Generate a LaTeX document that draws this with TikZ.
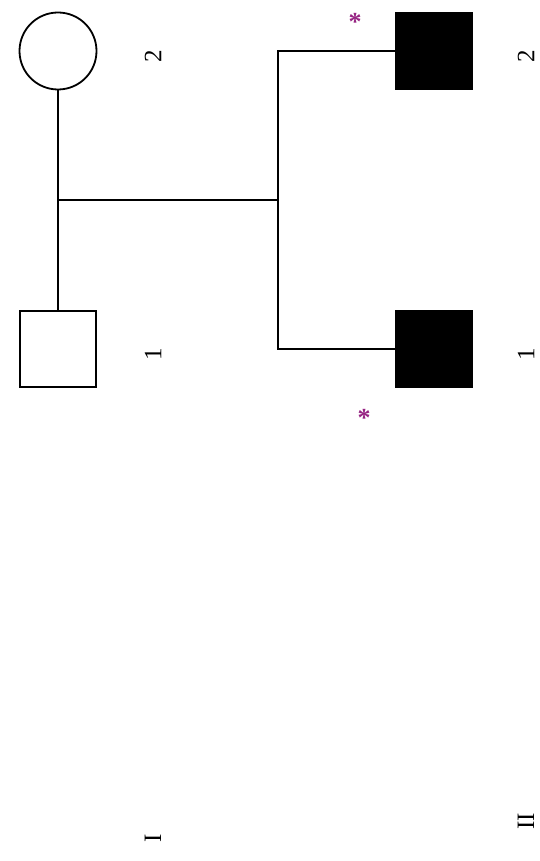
\documentclass[tikz,border=0pt]{standalone}
\usepackage{fontspec}
\setmainfont{Liberation Serif}
\usetikzlibrary{positioning}
\definecolor{starpurple}{RGB}{150,35,130}

\begin{document}
\begin{tikzpicture}[x=1pt,y=-1pt,line width=1.8pt,
  male/.style={draw,minimum size=76pt,inner sep=0pt},
  female/.style={draw,circle,minimum size=77pt,inner sep=0pt},
  num/.style={rotate=90,font=\fontsize{25}{25}\selectfont,inner sep=0pt},
  star/.style={text=starpurple,font=\fontsize{26}{26}\selectfont\bfseries,inner sep=0pt}]
\useasboundingbox (0,0) rectangle (539,861);
% generation I
\node[female] (I2) at (58,51) {};
\node[male] (I1) at (58,349) {};
% generation II
\node[male,fill=black] (II2) at (434,51) {};
\node[male,fill=black] (II1) at (434,349) {};
\coordinate (mate) at (58,200);
\coordinate (sib) at (278,200);
\draw (I2) -- (I1);
\draw (mate) -- (sib);
\draw (II2.west) -| (sib) |- (II1.west);
% numbers
\foreach \who/\dx/\txt in {I2/95/2,I1/95/1,II2/92/2,II1/92/1}
  \node[num] (n\who) at ([xshift=\dx pt,yshift=-5pt]\who.center) {\txt};
\node[num] (genI) at (153,838) {I};
\node[num] (genII) at (526,821) {II};
\node[star] (sII2) at (355,22) {*};
\node[star] (sII1) at (364,418) {*};
\end{tikzpicture}
\end{document}
